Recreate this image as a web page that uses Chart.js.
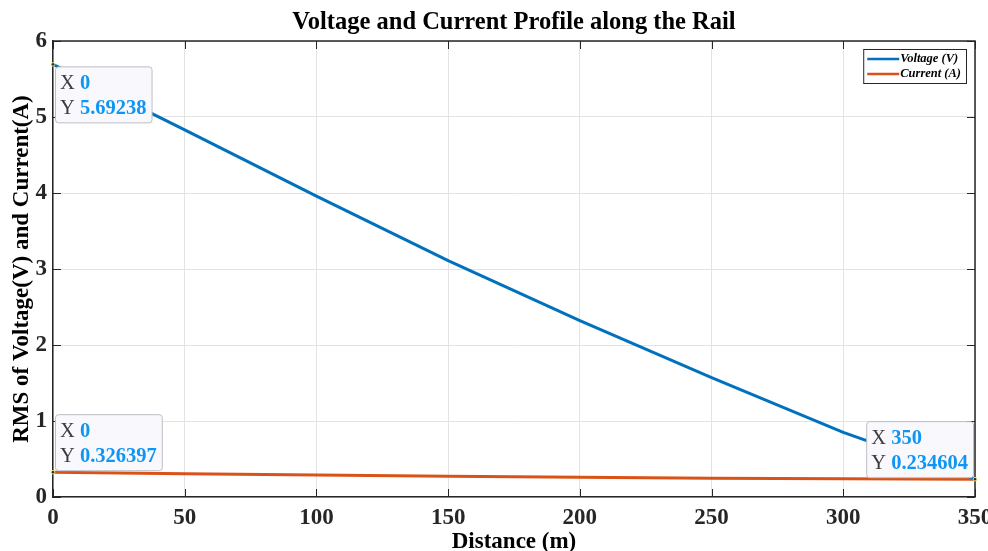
<!DOCTYPE html>
<html>
<head>
<meta charset="utf-8">
<title>Voltage and Current Profile along the Rail</title>
<script src="https://cdn.jsdelivr.net/npm/chart.js@4.4.1/dist/chart.umd.min.js"></script>
<style>
    html, body { margin: 0; padding: 0; background: #fff; }
    #wrap { width: 988px; height: 551px; }
</style>
</head>
<body>
<div id="wrap"><canvas id="rail-chart" width="988" height="551"></canvas></div>
<script>
const distance = [0, 50, 100, 150, 200, 250, 300, 350];
const voltage = [5.69238, 4.83, 3.96, 3.11, 2.32, 1.57, 0.85, 0.24];
const current = [0.326397, 0.305, 0.288, 0.272, 0.259, 0.248, 0.240, 0.234604];
const seriesLabels = ['Voltage (V)', 'Current (A)'];
const seriesColors = ['#0072BD', '#D95319'];
const xTickStep = 50;
const yTickStep = 1;

// which points carry a MATLAB-style data tip, and where the box sits
const dataTips = [
    { series: 0, index: 0, place: 'below-right' },
    { series: 1, index: 0, place: 'above-right' },
    { series: 1, index: distance.length - 1, place: 'above-left' }
];

const SERIF = "'Liberation Serif', 'Times New Roman', serif";
const AXIS_COLOR = '#262626';
const seriesValues = [voltage, current];

function toPoints(values) {
    return distance.map((d, i) => ({ x: d, y: values[i] }));
}

// ticks pointing inward on all four sides, plus the top/right box edges
const insideTicks = {
    id: 'insideTicks',
    afterDatasetsDraw(chart) {
        const { ctx, chartArea: a } = chart;
        const xs = chart.scales.x;
        const ys = chart.scales.y;
        const len = 8;
        ctx.save();
        ctx.strokeStyle = AXIS_COLOR;
        ctx.lineWidth = 1;
        ctx.beginPath();
        xs.ticks.forEach((t) => {
            const px = Math.round(xs.getPixelForValue(t.value)) + 0.5;
            ctx.moveTo(px, a.bottom); ctx.lineTo(px, a.bottom - len);
            ctx.moveTo(px, a.top); ctx.lineTo(px, a.top + len);
        });
        ys.ticks.forEach((t) => {
            const py = Math.round(ys.getPixelForValue(t.value)) + 0.5;
            ctx.moveTo(a.left, py); ctx.lineTo(a.left + len, py);
            ctx.moveTo(a.right, py); ctx.lineTo(a.right - len, py);
        });
        ctx.stroke();
        ctx.lineWidth = 1.5;
        ctx.beginPath();
        ctx.moveTo(a.left, a.top); ctx.lineTo(a.right, a.top); ctx.lineTo(a.right, a.bottom);
        ctx.stroke();
        ctx.restore();
    }
};

const boxLegend = {
    id: 'boxLegend',
    afterDraw(chart) {
        const { ctx, chartArea: a } = chart;
        ctx.save();
        ctx.font = `italic bold 12.5px ${SERIF}`;
        const textW = Math.max(...seriesLabels.map((s) => ctx.measureText(s).width));
        const w = 4 + 32 + 1 + textW + 5;
        const h = 34;
        const x0 = a.right - 9 - w;
        const y0 = a.top + 8;
        ctx.fillStyle = '#fff';
        ctx.fillRect(x0, y0, w, h);
        ctx.strokeStyle = AXIS_COLOR;
        ctx.lineWidth = 1;
        ctx.strokeRect(x0 + 0.5, y0 + 0.5, w, h);
        seriesLabels.forEach((label, i) => {
            const ly = y0 + 10 + i * 15;
            ctx.strokeStyle = seriesColors[i];
            ctx.lineWidth = 2.5;
            ctx.beginPath();
            ctx.moveTo(x0 + 4, ly); ctx.lineTo(x0 + 36, ly);
            ctx.stroke();
            ctx.fillStyle = '#000';
            ctx.textBaseline = 'middle';
            ctx.fillText(label, x0 + 37, ly);
        });
        ctx.restore();
    }
};

const dataTipPlugin = {
    id: 'dataTips',
    afterDraw(chart) {
        const { ctx } = chart;
        const xs = chart.scales.x;
        const ys = chart.scales.y;
        const labelFont = `20.5px ${SERIF}`;
        const valueFont = `bold 20.5px ${SERIF}`;
        ctx.save();
        dataTips.forEach((tip) => {
            const xv = distance[tip.index];
            const yv = seriesValues[tip.series][tip.index];
            const px = xs.getPixelForValue(xv);
            const py = ys.getPixelForValue(yv);
            const rows = [['X ', String(xv)], ['Y ', String(yv)]];
            const widths = rows.map(([lab, val]) => {
                ctx.font = labelFont;
                const a = ctx.measureText(lab).width;
                ctx.font = valueFont;
                return a + ctx.measureText(val).width;
            });
            const w = Math.max(...widths) + 10;
            const h = 56;
            const bx = tip.place.endsWith('right') ? px + 2 : px - 2 - w;
            const by = tip.place.startsWith('below') ? py + 2 : py - 2 - h;
            ctx.fillStyle = '#f8f8fd';
            ctx.strokeStyle = '#bdbdc4';
            ctx.lineWidth = 1;
            ctx.beginPath();
            ctx.roundRect(bx + 0.5, by + 0.5, w, h, 3);
            ctx.fill();
            ctx.stroke();
            ctx.textBaseline = 'alphabetic';
            rows.forEach(([lab, val], i) => {
                const ty = by + 23 + i * 25;
                ctx.font = labelFont;
                ctx.fillStyle = '#3c3c3c';
                ctx.fillText(lab, bx + 5, ty);
                const lw = ctx.measureText(lab).width;
                ctx.font = valueFont;
                ctx.fillStyle = '#0f96f5';
                ctx.fillText(val, bx + 5 + lw, ty);
            });
            ctx.fillStyle = '#2a2a2a';
            ctx.strokeStyle = '#e8e070';
            ctx.beginPath();
            ctx.arc(px, py, 1.8, 0, Math.PI * 2);
            ctx.fill();
            ctx.stroke();
        });
        ctx.restore();
    }
};

new Chart(document.getElementById('rail-chart'), {
    type: 'line',
    data: {
        datasets: [
            {
                label: seriesLabels[0],
                data: toPoints(voltage),
                borderColor: seriesColors[0],
                borderWidth: 3,
                pointRadius: 0,
                tension: 0
            },
            {
                label: seriesLabels[1],
                data: toPoints(current),
                borderColor: seriesColors[1],
                borderWidth: 3,
                pointRadius: 0,
                tension: 0
            }
        ]
    },
    options: {
        responsive: false,
        animation: false,
        layout: { padding: { left: 0, right: 13, top: 0, bottom: 0 } },
        plugins: {
            legend: { display: false },
            tooltip: { enabled: false },
            title: {
                display: true,
                fullSize: false,
                text: 'Voltage and Current Profile along the Rail',
                color: '#000',
                font: { family: SERIF, size: 24.5, weight: 'bold' },
                padding: { top: 8, bottom: 3.6 }
            }
        },
        scales: {
            x: {
                type: 'linear',
                min: 0,
                max: 350,
                ticks: {
                    stepSize: xTickStep,
                    color: AXIS_COLOR,
                    padding: 7,
                    maxRotation: 0,
                    font: { family: SERIF, size: 23, weight: 'bold' }
                },
                grid: { color: '#e3e3e3', drawTicks: false },
                border: { display: true, color: AXIS_COLOR, width: 1.5 },
                title: {
                    display: true,
                    text: 'Distance (m)',
                    color: '#000',
                    font: { family: SERIF, size: 23, weight: 'bold', lineHeight: 0.8 },
                    padding: { top: 0, bottom: 0 }
                },
                afterFit: (s) => {
                    s.height = 54;
                    s.paddingLeft = 0;
                    s.paddingRight = 0;
                }
            },
            y: {
                min: 0,
                max: 6,
                ticks: {
                    stepSize: yTickStep,
                    color: AXIS_COLOR,
                    padding: 6,
                    font: { family: SERIF, size: 23, weight: 'bold' }
                },
                grid: { color: '#e3e3e3', drawTicks: false },
                border: { display: true, color: AXIS_COLOR, width: 1.5 },
                title: {
                    display: true,
                    text: 'RMS of Voltage(V) and Current(A)',
                    color: '#000',
                    font: { family: SERIF, size: 23, weight: 'bold' },
                    padding: { top: 8, bottom: 0 }
                },
                afterFit: (s) => {
                    s.width = 53;
                    s.paddingTop = 0;
                    s.paddingBottom = 0;
                }
            }
        }
    },
    plugins: [insideTicks, boxLegend, dataTipPlugin]
});
</script>
</body>
</html>
